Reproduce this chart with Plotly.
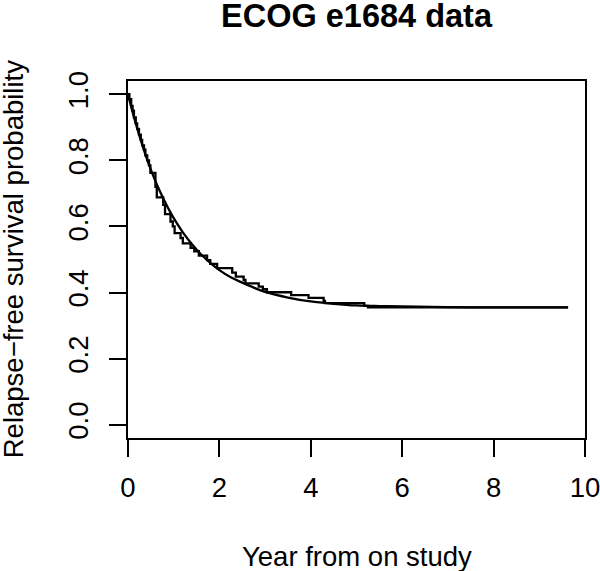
import plotly.graph_objects as go

# Kaplan-Meier estimate (step function)
km_time = [0.0, 0.03, 0.07, 0.10, 0.13, 0.17, 0.20, 0.24, 0.28, 0.31, 0.35, 0.38,
           0.42, 0.46, 0.49, 0.60, 0.63, 0.77, 0.81, 0.93, 0.98, 1.02, 1.15, 1.20,
           1.37, 1.45, 1.55, 1.73, 1.80, 1.95, 2.28, 2.36, 2.53, 2.57, 2.86, 2.95,
           3.04, 3.57, 3.95, 4.28, 4.31, 5.17, 5.25, 9.63]
km_surv = [1.000, 0.985, 0.965, 0.950, 0.930, 0.912, 0.895, 0.878, 0.862, 0.845, 0.832, 0.815,
           0.800, 0.785, 0.762, 0.720, 0.688, 0.665, 0.637, 0.615, 0.600, 0.580, 0.565, 0.549,
           0.535, 0.525, 0.512, 0.498, 0.487, 0.474, 0.460, 0.448, 0.438, 0.428, 0.418, 0.410,
           0.401, 0.392, 0.384, 0.375, 0.368, 0.360, 0.355, 0.355]

# Fitted cure-model survival curve
fit_time = [0.0, 0.1, 0.2, 0.3, 0.4, 0.5, 0.6, 0.7, 0.8, 0.9, 1.0, 1.2, 1.4, 1.6, 1.8,
            2.0, 2.25, 2.5, 2.75, 3.0, 3.5, 4.0, 4.5, 5.0, 5.5, 6.0, 7.0, 8.0, 9.0, 9.63]
fit_surv = [1.000, 0.946, 0.897, 0.852, 0.810, 0.772, 0.737, 0.706, 0.677, 0.650, 0.625,
            0.582, 0.546, 0.515, 0.490, 0.468, 0.446, 0.430, 0.415, 0.402, 0.385, 0.373,
            0.366, 0.361, 0.359, 0.358, 0.356, 0.355, 0.355, 0.355]

x_ticks = [0, 2, 4, 6, 8, 10]
y_ticks = [0.0, 0.2, 0.4, 0.6, 0.8, 1.0]
y_tick_text = ["0.0", "0.2", "0.4", "0.6", "0.8", "1.0"]

FONT = "Liberation Sans, Arial, Helvetica, sans-serif"
LAB = 27.5
W, H = 600, 571

fig = go.Figure()
fig.add_trace(go.Scatter(x=km_time, y=km_surv, mode="lines",
                         line=dict(color="black", width=2.3, shape="hv"),
                         showlegend=False, hoverinfo="skip"))
fig.add_trace(go.Scatter(x=fit_time, y=fit_surv, mode="lines",
                         line=dict(color="black", width=2.3, shape="spline"),
                         showlegend=False, hoverinfo="skip"))

fig.update_layout(
    width=W, height=H,
    margin=dict(l=128, r=15, t=81, b=133, autoexpand=False),
    paper_bgcolor="white", plot_bgcolor="white",
    font=dict(family=FONT, color="black", size=LAB),
    title=dict(text="<b>ECOG e1684 data</b>", x=0.5, xanchor="center",
               xref="paper", y=1 - 15.5 / H, yanchor="middle", yref="container",
               font=dict(size=32.5, family=FONT, color="black")),
    annotations=[
        dict(text="Year from on study", x=0.5, y=-0.332, xref="paper", yref="paper",
             xanchor="center", yanchor="middle", showarrow=False,
             font=dict(size=LAB, family=FONT, color="black")),
        dict(text="Relapse\u2212free survival probability", x=-0.250, y=0.5,
             xref="paper", yref="paper", xanchor="center", yanchor="middle",
             textangle=-90, showarrow=False,
             font=dict(size=LAB, family=FONT, color="black")),
    ],
)
fig.update_xaxes(range=[0, 10], tickvals=x_ticks, ticks="outside", ticklen=17,
                 tickwidth=2, tickcolor="black", showline=True, linewidth=2,
                 linecolor="black", mirror=True, showgrid=False, zeroline=False,
                 automargin=False, ticklabelstandoff=7, ticklabeloverflow="allow",
                 tickfont=dict(size=LAB, family=FONT, color="black"))
fig.update_yaxes(range=[-0.04, 1.04], tickvals=y_ticks, ticktext=y_tick_text,
                 ticks="outside", ticklen=17, tickwidth=2, tickcolor="black",
                 showline=True, linewidth=2, linecolor="black", mirror=True,
                 showgrid=False, zeroline=False, tickangle=-90, automargin=False,
                 ticklabelstandoff=10, ticklabeloverflow="allow",
                 tickfont=dict(size=LAB, family=FONT, color="black"))

# remove the default 8px page margin so the figure fills the window exactly
fig.write_html("out.html",
               config={"displayModeBar": False},
               post_script="document.body.style.margin='0px';"
                           "document.body.style.overflow='hidden';")
